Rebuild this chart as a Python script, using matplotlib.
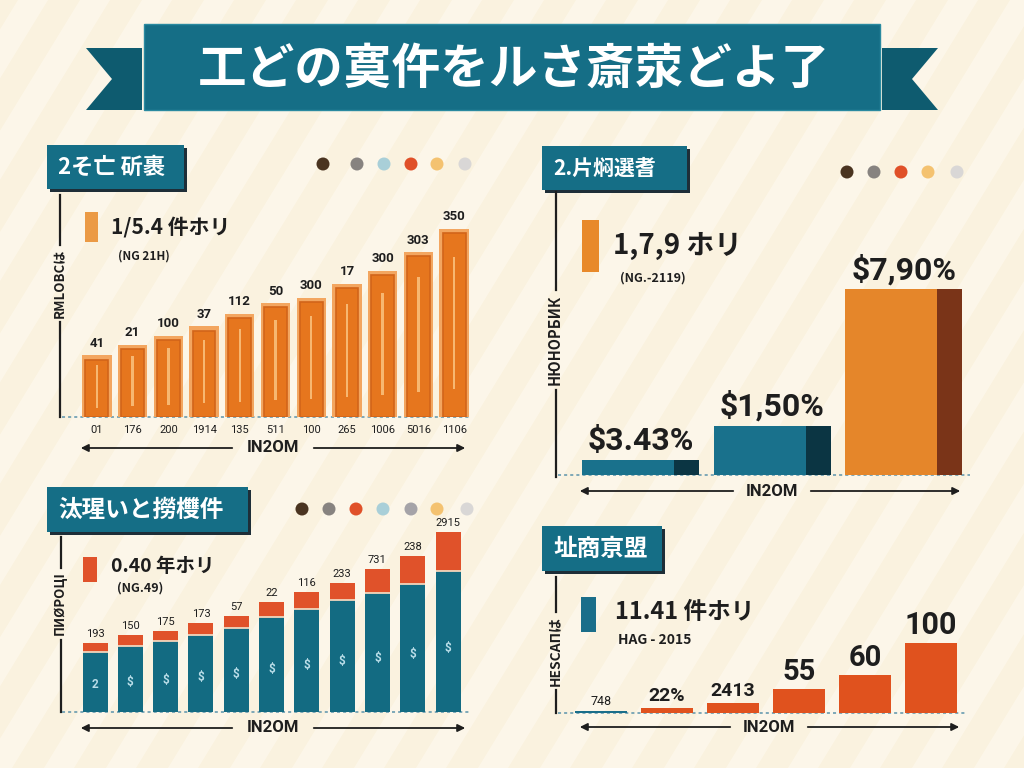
import matplotlib
matplotlib.use('Agg')
import matplotlib.pyplot as plt
from matplotlib.patches import Rectangle, Polygon, Circle

plt.rcParams['font.family'] = ['Noto Sans CJK JP', 'DejaVu Sans']

# ---------------- data ----------------
main_title = "工どの寞仵をルさ斎荥どよ了"

p1_title = "2そ亡 斫裹"
p1_legend = "1/5.4 件ホリ"
p1_sub = "(NG 21H)"
p1_ylabel = "RMLOBCは"
p1_xlabels = ["01", "176", "200", "1914", "135", "511", "100", "265", "1006", "5016", "1106"]
p1_values = [115, 134, 151, 169, 192, 212, 222, 248, 272, 307, 350]
p1_labels = ["41", "21", "100", "37", "112", "50", "300", "17", "300", "303", "350"]

p2_title = "2.片焖選耆"
p2_legend = "1,7,9 ホリ"
p2_sub = "(NG.-2119)"
p2_ylabel = "НЮНОРБИК"
p2_values = [0.64, 2.08, 7.9]
p2_labels = ["$3.43%", "$1,50%", "$7,90%"]

p3_title = "汰瑆いと撈欆件"
p3_legend = "0.40 年ホリ"
p3_sub = "(NG.49)"
p3_ylabel = "ПИØРОЦI"
p3_base = [120, 132, 142, 154, 168, 190, 206, 224, 238, 256, 282]
p3_top = [18, 22, 20, 24, 24, 30, 34, 34, 48, 56, 78]
p3_labels = ["193", "150", "175", "173", "57", "22", "116", "233", "731", "238", "2915"]
p3_inner = ["2", "$", "$", "$", "$", "$", "$", "$", "$", "$", "$"]

p4_title = "址商亰盟"
p4_legend = "11.41 件ホリ"
p4_sub = "HAG - 2015"
p4_ylabel = "HESCAПは"
p4_values = [3, 7, 14, 34, 54, 100]
p4_labels = ["748", "22%", "2413", "55", "60", "100"]

axis_word = "IN2OM"

# ---------------- style ----------------
BG = '#faf2df'
STRIPE = '#fffaf0'
TEAL = '#156e86'
TEAL_D = '#0e5b6f'
SHADOW = '#1e2e38'
ORANGE = '#e8802a'
RED = '#e0522a'
INK = '#1e1e1e'
NUM = ['Roboto', 'DejaVu Sans']

W, H = 1024, 768
fig = plt.figure(figsize=(W / 100, H / 100), dpi=100)
fig.patch.set_facecolor(BG)

bg = fig.add_axes([0, 0, 1, 1])
bg.set_xlim(0, W)
bg.set_ylim(H, 0)
bg.axis('off')
bg.set_facecolor(BG)

# diagonal stripes
dx = 470
c = -700
while c < W + 100:
    bg.add_patch(Polygon([(c, H), (c + 30, H), (c + 30 + dx, 0), (c + dx, 0)],
                         closed=True, facecolor=STRIPE, edgecolor='none', alpha=0.6, zorder=0))
    c += 62


def axes_px(left, top, right, bottom):
    ax = fig.add_axes([left / W, 1 - bottom / H, (right - left) / W, (bottom - top) / H])
    ax.set_facecolor('none')
    for s in ax.spines.values():
        s.set_visible(False)
    ax.tick_params(left=False, bottom=False, labelleft=False, labelbottom=False)
    return ax


# ---- main banner ----
bg.add_patch(Polygon([(86, 48), (142, 48), (142, 110), (86, 110), (112, 79)],
                     closed=True, facecolor=TEAL_D, edgecolor='none', zorder=2))
bg.add_patch(Polygon([(882, 48), (938, 48), (912, 79), (938, 110), (882, 110)],
                     closed=True, facecolor=TEAL_D, edgecolor='none', zorder=2))
bg.add_patch(Rectangle((144, 24), 736, 86, facecolor=TEAL, edgecolor='#2a8aa0', lw=1, zorder=3))
bg.text(514, 69, main_title, color='white', fontsize=35, fontweight='bold',
        ha='center', va='center', zorder=4)


def title_box(x0, y0, x1, y1, text, fs):
    bg.add_patch(Rectangle((x0 + 3, y0 + 3), x1 - x0, y1 - y0, facecolor=SHADOW, edgecolor='none', zorder=2))
    bg.add_patch(Rectangle((x0, y0), x1 - x0, y1 - y0, facecolor=TEAL, edgecolor='none', zorder=3))
    bg.text(x0 + 11, (y0 + y1) / 2, text, color='white', fontsize=fs, fontweight='bold',
            ha='left', va='center', zorder=4)


def dots(xs, y, colors):
    for x, col in zip(xs, colors):
        bg.add_patch(Circle((x, y), 6.5, facecolor=col, edgecolor='none', zorder=3))


def vaxis(x, y0, y1, gap0, gap1, label, fs, ylab):
    bg.plot([x, x], [y0, gap0], color=INK, lw=1.6, zorder=3)
    bg.plot([x, x], [gap1, y1], color=INK, lw=1.6, zorder=3)
    bg.text(x - 1, ylab, label, rotation=90, fontsize=fs, fontweight='bold', color=INK,
            ha='center', va='center', zorder=4)


def baseline(x0, x1, y):
    bg.plot([x0, x1], [y, y], color='#5b93ab', lw=1.1, ls=(0, (2, 2)), zorder=3)


def arrow_axis(x0, x1, y, xc, tw):
    bg.annotate('', xy=(x0, y), xytext=(xc - tw, y),
                arrowprops=dict(arrowstyle='-|>', color=INK, lw=1.3, mutation_scale=11), zorder=4)
    bg.annotate('', xy=(x1, y), xytext=(xc + tw, y),
                arrowprops=dict(arrowstyle='-|>', color=INK, lw=1.3, mutation_scale=11), zorder=4)
    bg.text(xc, y, axis_word, fontsize=12, fontweight='bold', color=INK, family=NUM,
            ha='center', va='center', zorder=4)


def legend(sx0, sy0, sx1, sy1, col, tx, ty, text, fs, subx, suby, sub, subfs):
    bg.add_patch(Rectangle((sx0, sy0), sx1 - sx0, sy1 - sy0, facecolor=col, edgecolor='none', zorder=3))
    bg.text(tx, ty, text, fontsize=fs, color=INK, fontweight='bold', ha='left', va='center', zorder=4)
    bg.text(subx, suby, sub, fontsize=subfs, color=INK, fontweight='bold', ha='left', va='center', zorder=4)


brown, gray, lblue, red, yellow, lgray, mgray = '#4a3420', '#878380', '#a9cfd8', '#e05028', '#f4c270', '#d9d7d6', '#a5a3a8'

# ================= Panel 1 =================
title_box(47, 145, 184, 189, p1_title, 16)
dots([323, 357, 384, 411, 437, 465], 164, [brown, gray, lblue, red, yellow, lgray])
vaxis(60, 195, 417, 245, 322, p1_ylabel, 9.5, 283)
legend(85, 212, 98, 242, '#eb9a45', 111, 227, p1_legend, 15, 118, 256, p1_sub, 8.5)
baseline(62, 470, 417)
arrow_axis(78, 468, 448, 273, 38)

ax1 = axes_px(79, 200, 472, 417)
x1 = list(range(len(p1_values)))
ax1.set_xlim(-0.5, len(p1_values) - 0.5)
ax1.set_ylim(0, 217 / 0.537)
ax1.bar(x1, p1_values, width=0.82, color='#f3a660', edgecolor='none', zorder=2)
ax1.bar(x1, [v - 8 for v in p1_values], width=0.64, color='#e6761e', edgecolor='#d2641a', lw=1.2, zorder=3)
ax1.bar(x1, [v * 0.7 for v in p1_values], bottom=[v * 0.15 for v in p1_values], width=0.07,
        color='#f7b771', edgecolor='none', zorder=4)
for i, (v, lab) in enumerate(zip(p1_values, p1_labels)):
    ax1.annotate(lab, (i, v), xytext=(0, 4), textcoords='offset points', ha='center', va='bottom',
                 fontsize=9.5, fontweight='bold', color=INK, family=NUM)
ax1.set_xticks(x1)
ax1.set_xticklabels(p1_xlabels, fontsize=8, color=INK, family=NUM)
ax1.tick_params(labelbottom=True, length=0, pad=6)

# ================= Panel 2 =================
title_box(542, 146, 687, 190, p2_title, 15)
dots([847, 874, 901, 928, 957], 172, [brown, gray, red, yellow, lgray])
vaxis(556, 192, 477, 290, 390, p2_ylabel, 10.5, 340)
legend(582, 220, 599, 272, '#e8892a', 613, 246, p2_legend, 20, 620, 278, p2_sub, 9)
baseline(558, 970, 475)
arrow_axis(577, 963, 491, 772, 36)

ax2 = axes_px(575, 250, 969.5, 475)
x2 = list(range(len(p2_values)))
ax2.set_xlim(-0.5, len(p2_values) - 0.5)
ax2.set_ylim(0, 225 / 23.5)
main_cols = ['#19718c', '#19718c', '#e5862a']
dark_cols = ['#0b3543', '#0b3543', '#7a3418']
bw = 0.89
ax2.bar(x2, p2_values, width=bw, color=main_cols, edgecolor='none', zorder=2)
ax2.bar([i + bw / 2 - 0.19 for i in x2], p2_values, width=0.19, align='edge',
        color=dark_cols, edgecolor='none', zorder=3)
for i, (v, lab) in enumerate(zip(p2_values, p2_labels)):
    ax2.annotate(lab, (i, v), xytext=(0, 3), textcoords='offset points', ha='center', va='bottom',
                 fontsize=23, fontweight='bold', color=INK, family=NUM)

# ================= Panel 3 =================
title_box(47, 487, 248, 532, p3_title, 17)
dots([302, 329, 356, 383, 411, 437, 467], 509, [brown, gray, red, lblue, mgray, yellow, lgray])
vaxis(61, 537, 712, 568, 640, p3_ylabel, 9.5, 603)
legend(83, 557, 97, 582, RED, 111, 566, p3_legend, 14, 117, 588, p3_sub, 9)
baseline(62, 470, 712)
arrow_axis(78, 468, 728, 273, 38)

ax3 = axes_px(77.4, 520, 465.7, 712)
x3 = list(range(len(p3_base)))
ax3.set_xlim(-0.5, len(p3_base) - 0.5)
ax3.set_ylim(0, 192 / 0.5)
ax3.bar(x3, p3_base, width=0.71, color='#136b82', edgecolor='none', zorder=2)
ax3.bar(x3, p3_top, bottom=p3_base, width=0.71, color=RED, edgecolor='none', zorder=2)
ax3.hlines(p3_base, [i - 0.355 for i in x3], [i + 0.355 for i in x3], color='#f1d6bd', lw=1.3, zorder=3)
for i, (b, t, lab, inn) in enumerate(zip(p3_base, p3_top, p3_labels, p3_inner)):
    ax3.annotate(lab, (i, b + t), xytext=(0, 3), textcoords='offset points', ha='center', va='bottom',
                 fontsize=8, color=INK, family=NUM)
    ax3.text(i, b * 0.45, inn, ha='center', va='center', fontsize=8.5, fontweight='bold',
             color='#b9dde8', family=NUM, zorder=4)

# ================= Panel 4 =================
title_box(542, 526, 662, 571, p4_title, 17)
vaxis(556, 577, 713, 612, 690, p4_ylabel, 10, 651)
legend(581, 597, 596, 632, '#1a6e8a', 615, 612, p4_legend, 17, 618, 640, p4_sub, 10)
baseline(558, 965, 713)
arrow_axis(577, 962, 727, 769, 36)

ax4 = axes_px(568, 590, 964, 713)
x4 = list(range(len(p4_values)))
ax4.set_xlim(-0.5, len(p4_values) - 0.5)
ax4.set_ylim(0, 123 / 0.7)
p4_cols = ['#1a6e8a'] + ['#e0521e'] * (len(p4_values) - 1)
ax4.bar(x4, p4_values, width=0.8, color=p4_cols, edgecolor='none', zorder=2)
p4_fs = [9, 14, 14, 21, 21, 22]
for i, (v, lab) in enumerate(zip(p4_values, p4_labels)):
    ax4.annotate(lab, (i, v), xytext=(0, 2), textcoords='offset points', ha='center', va='bottom',
                 fontsize=p4_fs[i], fontweight='bold' if p4_fs[i] > 10 else 'normal', color=INK, family=NUM)

fig.savefig('out.png', dpi=100, facecolor=BG)
